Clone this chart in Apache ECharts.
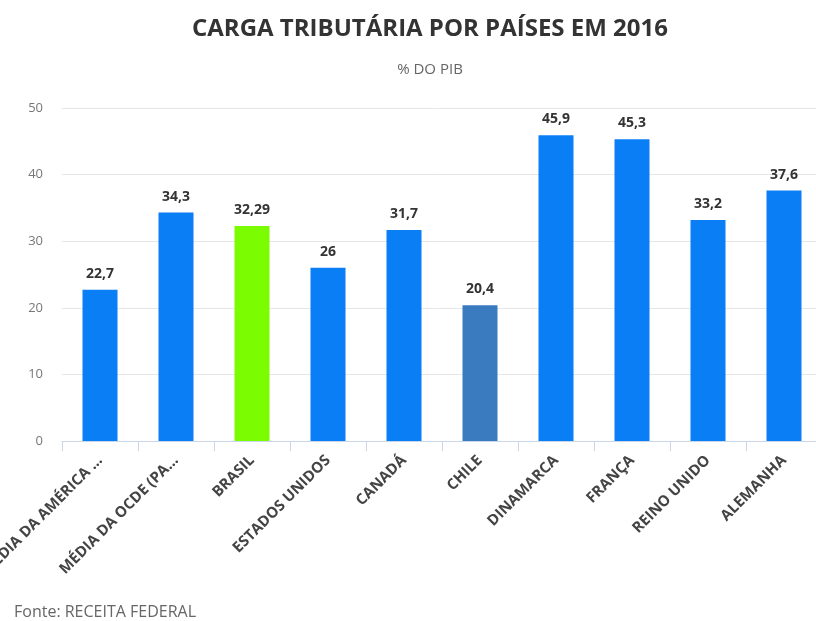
<!DOCTYPE html>
<html>
<head>
    <meta charset="UTF-8">
    <title>Carga tributária</title>
    <style type="text/css">
        html, body {
            margin: 0;
            padding: 0;
            background: #fff;
        }

        #chart {
            width: 816px;
            height: 621px;
        }
    </style>
    <script type="text/javascript" src="https://cdn.jsdelivr.net/npm/echarts@6/dist/echarts.min.js"></script>
</head>
<body>
<div id="chart"></div>
<script type="text/javascript">
    var categories = ['MÉDIA DA AMÉRICA ...', 'MÉDIA DA OCDE (PA...', 'BRASIL', 'ESTADOS UNIDOS', 'CANADÁ',
        'CHILE', 'DINAMARCA', 'FRANÇA', 'REINO UNIDO', 'ALEMANHA'];
    var values = [22.7, 34.3, 32.29, 26, 31.7, 20.4, 45.9, 45.3, 33.2, 37.6];
    var barColors = ['#0a7ff5', '#0a7ff5', '#7cfc00', '#0a7ff5', '#0a7ff5',
        '#3a7bc0', '#0a7ff5', '#0a7ff5', '#0a7ff5', '#0a7ff5'];
    var yTicks = [0, 10, 20, 30, 40, 50];

    var font = '"Open Sans", "Noto Sans", sans-serif';
    var myChart = echarts.init(document.getElementById('chart'));

    var option = {
        animation: false,
        textStyle: {fontFamily: font},
        title: {
            text: 'CARGA TRIBUTÁRIA POR PAÍSES EM 2016',
            subtext: '% DO PIB',
            left: 425,
            textAlign: 'center',
            top: 12,
            itemGap: 21,
            textStyle: {fontFamily: font, fontSize: 24, fontWeight: 'bold', color: '#333'},
            subtextStyle: {fontFamily: font, fontSize: 15, color: '#666'}
        },
        grid: {
            left: 62,
            right: -6,
            top: 108,
            bottom: 180,
            outerBoundsMode: 'none'
        },
        xAxis: {
            type: 'category',
            data: categories,
            axisLine: {lineStyle: {color: '#ccd6eb'}},
            axisTick: {show: true, length: 10, lineStyle: {color: '#ccd6eb'}},
            axisLabel: {
                rotate: 45,
                interval: 0,
                margin: 17,
                fontFamily: font,
                fontSize: 15,
                fontWeight: 'bold',
                color: '#444'
            }
        },
        yAxis: {
            type: 'value',
            min: yTicks[0],
            max: yTicks[yTicks.length - 1],
            interval: 10,
            axisLine: {show: false},
            axisTick: {show: false},
            splitLine: {lineStyle: {color: '#e6e6e6'}},
            axisLabel: {margin: 19, fontFamily: font, fontSize: 13, color: '#777'}
        },
        series: [{
            type: 'bar',
            barWidth: 35,
            data: values.map(function (v, i) {
                return {value: v, itemStyle: {color: barColors[i]}};
            }),
            label: {
                show: true,
                position: 'top',
                distance: 9,
                fontFamily: font,
                fontSize: 14,
                fontWeight: 'bold',
                color: '#333',
                formatter: function (p) {
                    return String(p.value).replace('.', ',');
                }
            }
        }],
        graphic: [{
            type: 'text',
            left: 14,
            top: 604,
            style: {
                text: 'Fonte: RECEITA FEDERAL',
                fontFamily: font,
                fontSize: 16,
                fill: '#666'
            }
        }]
    };
    myChart.setOption(option);
</script>
</body>
</html>
